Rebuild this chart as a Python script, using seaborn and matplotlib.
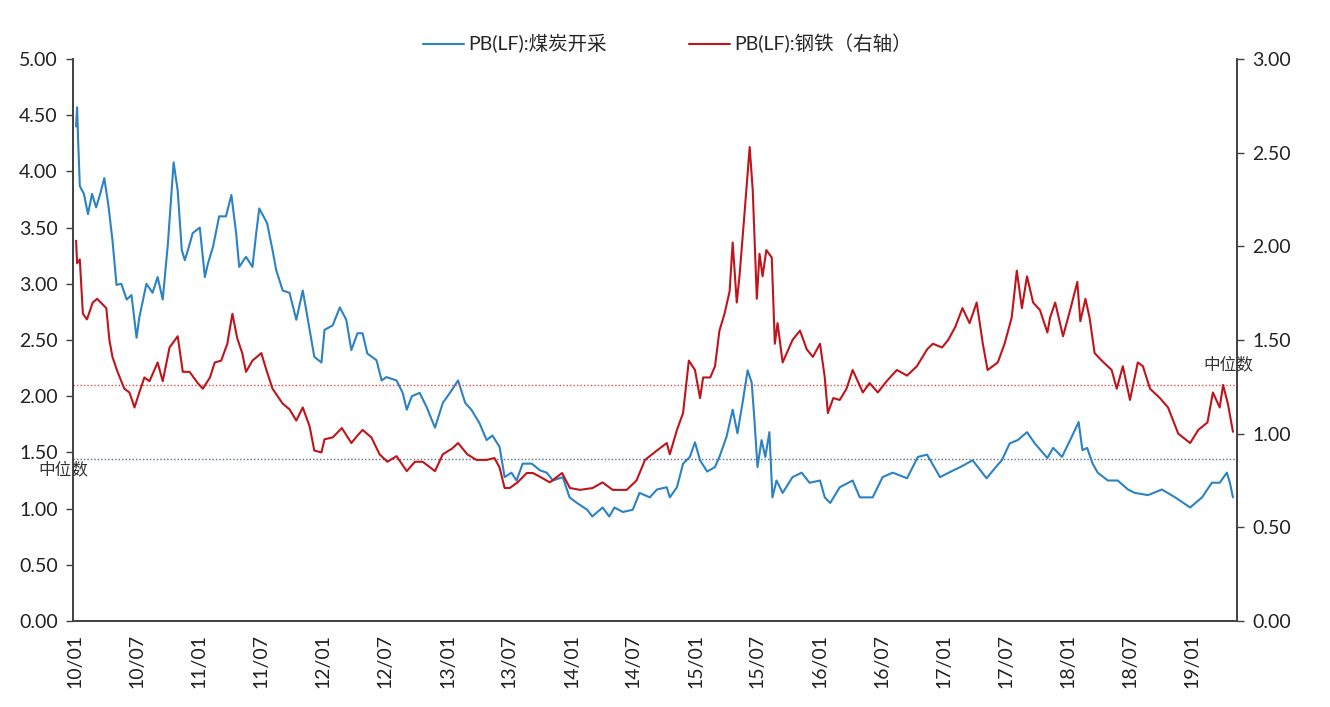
import matplotlib
matplotlib.use("Agg")
import matplotlib.pyplot as plt
import matplotlib.dates as mdates
from matplotlib.lines import Line2D
import seaborn as sns
import pandas as pd

# ---------------- data ----------------
coal_dates = [
    "2010-01-04", "2010-01-07", "2010-01-10", "2010-01-15", "2010-01-27", "2010-02-08", "2010-02-20",
    "2010-03-04", "2010-03-16", "2010-03-28", "2010-04-09", "2010-04-21", "2010-05-03", "2010-05-17",
    "2010-06-02", "2010-06-16", "2010-07-01", "2010-07-09", "2010-07-30", "2010-08-17", "2010-09-01",
    "2010-09-16", "2010-10-01", "2010-10-09", "2010-10-18", "2010-10-30", "2010-11-11", "2010-11-20",
    "2010-12-04", "2010-12-13", "2011-01-03", "2011-01-18", "2011-01-27", "2011-02-11", "2011-03-01",
    "2011-03-21", "2011-04-06", "2011-04-20", "2011-04-29", "2011-05-19", "2011-06-07", "2011-06-18",
    "2011-06-27", "2011-07-20", "2011-08-05", "2011-08-16", "2011-09-04", "2011-09-24", "2011-10-14",
    "2011-11-02", "2011-11-16", "2011-12-06", "2011-12-27", "2012-01-05", "2012-01-29", "2012-02-19",
    "2012-03-09", "2012-03-24", "2012-04-11", "2012-04-26", "2012-05-10", "2012-06-06", "2012-06-21",
    "2012-07-05", "2012-08-04", "2012-08-22", "2012-09-03", "2012-09-18", "2012-10-11", "2012-11-01",
    "2012-11-25", "2012-12-18", "2013-01-08", "2013-02-01", "2013-02-22", "2013-03-12", "2013-04-05",
    "2013-04-26", "2013-05-13", "2013-06-03", "2013-06-18", "2013-07-08", "2013-07-23", "2013-08-10",
    "2013-09-06", "2013-09-30", "2013-10-20", "2013-11-07", "2013-12-06", "2013-12-26", "2014-01-17",
    "2014-02-16", "2014-03-03", "2014-04-02", "2014-04-22", "2014-05-07", "2014-06-01", "2014-06-30",
    "2014-07-20", "2014-08-19", "2014-09-09", "2014-10-08", "2014-10-17", "2014-11-07", "2014-11-25",
    "2014-12-15", "2014-12-30", "2015-01-14", "2015-02-04", "2015-02-27", "2015-03-12", "2015-04-02",
    "2015-04-20", "2015-05-04", "2015-05-19", "2015-06-03", "2015-06-15", "2015-06-23", "2015-07-02",
    "2015-07-14", "2015-07-25", "2015-08-06", "2015-08-15", "2015-08-27", "2015-09-14", "2015-10-13",
    "2015-11-09", "2015-12-02", "2016-01-02", "2016-01-16", "2016-02-01", "2016-02-29", "2016-04-07",
    "2016-04-28", "2016-06-05", "2016-07-04", "2016-08-03", "2016-09-14", "2016-10-16", "2016-11-12",
    "2016-12-20", "2017-01-28", "2017-02-18", "2017-03-26", "2017-05-06", "2017-06-08", "2017-06-20",
    "2017-07-13", "2017-08-06", "2017-09-02", "2017-09-25", "2017-11-01", "2017-11-18", "2017-12-14",
    "2018-01-07", "2018-02-01", "2018-02-12", "2018-02-26", "2018-03-14", "2018-03-29", "2018-04-28",
    "2018-05-27", "2018-06-26", "2018-07-16", "2018-08-24", "2018-10-04", "2018-11-12", "2018-12-26",
    "2019-01-30", "2019-02-28", "2019-03-23", "2019-04-13", "2019-04-22", "2019-05-01",
]
coal_pb = [
    4.40, 4.57, 4.28, 3.87, 3.80, 3.62, 3.80, 3.68, 3.80, 3.94, 3.70, 3.39, 2.99, 3.00,
    2.86, 2.90, 2.52, 2.70, 3.00, 2.92, 3.06, 2.86, 3.35, 3.70, 4.08, 3.83, 3.30, 3.21,
    3.35, 3.45, 3.50, 3.06, 3.18, 3.33, 3.60, 3.60, 3.79, 3.45, 3.15, 3.24, 3.15, 3.45,
    3.67, 3.54, 3.30, 3.12, 2.94, 2.92, 2.68, 2.94, 2.70, 2.35, 2.30, 2.59, 2.63, 2.79,
    2.68, 2.41, 2.56, 2.56, 2.38, 2.32, 2.14, 2.17, 2.14, 2.03, 1.88, 2.00, 2.03, 1.90,
    1.72, 1.94, 2.03, 2.14, 1.94, 1.88, 1.76, 1.61, 1.65, 1.55, 1.28, 1.32, 1.25, 1.40,
    1.40, 1.34, 1.32, 1.25, 1.28, 1.10, 1.05, 0.99, 0.93, 1.01, 0.93, 1.01, 0.97, 0.99,
    1.14, 1.10, 1.17, 1.19, 1.10, 1.19, 1.40, 1.46, 1.59, 1.43, 1.33, 1.37, 1.46, 1.64,
    1.88, 1.67, 1.94, 2.23, 2.12, 1.79, 1.37, 1.61, 1.46, 1.68, 1.10, 1.25, 1.14, 1.28,
    1.32, 1.23, 1.25, 1.10, 1.05, 1.19, 1.25, 1.10, 1.10, 1.28, 1.32, 1.27, 1.46, 1.48,
    1.28, 1.34, 1.37, 1.43, 1.27, 1.39, 1.43, 1.58, 1.61, 1.68, 1.58, 1.45, 1.54, 1.46,
    1.61, 1.77, 1.52, 1.54, 1.40, 1.32, 1.25, 1.25, 1.17, 1.14, 1.12, 1.17, 1.10, 1.01,
    1.10, 1.23, 1.23, 1.32, 1.23, 1.10,
]

steel_dates = [
    "2010-01-04", "2010-01-07", "2010-01-15", "2010-01-24", "2010-02-05", "2010-02-22", "2010-03-07",
    "2010-04-03", "2010-04-12", "2010-04-21", "2010-05-06", "2010-05-26", "2010-06-10", "2010-06-25",
    "2010-07-09", "2010-07-24", "2010-08-08", "2010-09-01", "2010-09-16", "2010-10-06", "2010-10-30",
    "2010-11-14", "2010-12-04", "2010-12-28", "2011-01-12", "2011-02-02", "2011-02-16", "2011-03-07",
    "2011-03-25", "2011-04-09", "2011-04-23", "2011-05-08", "2011-05-19", "2011-06-07", "2011-07-03",
    "2011-07-18", "2011-08-05", "2011-09-04", "2011-09-24", "2011-10-14", "2011-11-02", "2011-11-22",
    "2011-12-06", "2011-12-27", "2012-01-05", "2012-01-29", "2012-02-25", "2012-03-24", "2012-04-11",
    "2012-04-26", "2012-05-22", "2012-06-15", "2012-07-08", "2012-08-04", "2012-09-03", "2012-09-27",
    "2012-10-20", "2012-11-25", "2012-12-18", "2013-01-14", "2013-02-01", "2013-02-28", "2013-03-27",
    "2013-04-26", "2013-05-19", "2013-06-03", "2013-06-18", "2013-07-03", "2013-07-26", "2013-08-22",
    "2013-09-09", "2013-09-30", "2013-10-29", "2013-12-04", "2013-12-27", "2014-01-26", "2014-03-04",
    "2014-04-02", "2014-05-02", "2014-06-12", "2014-07-11", "2014-08-05", "2014-09-09", "2014-10-08",
    "2014-10-17", "2014-11-07", "2014-11-25", "2014-12-12", "2014-12-30", "2015-01-14", "2015-01-23",
    "2015-02-13", "2015-02-27", "2015-03-12", "2015-03-27", "2015-04-11", "2015-04-20", "2015-05-02",
    "2015-05-10", "2015-05-25", "2015-06-09", "2015-06-18", "2015-06-30", "2015-07-08", "2015-07-17",
    "2015-07-28", "2015-08-13", "2015-08-22", "2015-08-30", "2015-09-14", "2015-10-13", "2015-11-04",
    "2015-11-24", "2015-12-12", "2016-01-02", "2016-01-16", "2016-01-25", "2016-02-10", "2016-02-29",
    "2016-03-20", "2016-04-07", "2016-05-07", "2016-05-27", "2016-06-20", "2016-07-16", "2016-08-15",
    "2016-09-14", "2016-10-13", "2016-11-12", "2016-11-29", "2016-12-26", "2017-01-13", "2017-02-03",
    "2017-02-24", "2017-03-17", "2017-04-07", "2017-04-25", "2017-05-09", "2017-06-08", "2017-06-28",
    "2017-07-19", "2017-08-03", "2017-08-18", "2017-09-02", "2017-09-20", "2017-10-10", "2017-11-01",
    "2017-11-09", "2017-11-24", "2017-12-17", "2018-01-07", "2018-01-28", "2018-02-06", "2018-02-21",
    "2018-03-05", "2018-03-20", "2018-04-10", "2018-05-09", "2018-05-24", "2018-06-11", "2018-07-02",
    "2018-07-25", "2018-08-09", "2018-08-30", "2018-09-28", "2018-10-22", "2018-11-21", "2018-12-26",
    "2019-01-19", "2019-02-15", "2019-03-03", "2019-03-23", "2019-04-02", "2019-04-16", "2019-05-01",
]
steel_pb = [
    2.03, 1.91, 1.93, 1.64, 1.61, 1.70, 1.72, 1.67, 1.50, 1.41, 1.33, 1.24, 1.22, 1.14,
    1.22, 1.30, 1.28, 1.38, 1.28, 1.46, 1.52, 1.33, 1.33, 1.27, 1.24, 1.30, 1.38, 1.39,
    1.48, 1.64, 1.51, 1.43, 1.33, 1.39, 1.43, 1.34, 1.24, 1.16, 1.13, 1.07, 1.14, 1.04,
    0.91, 0.90, 0.97, 0.98, 1.03, 0.95, 0.99, 1.02, 0.98, 0.89, 0.85, 0.88, 0.80, 0.85,
    0.85, 0.80, 0.89, 0.92, 0.95, 0.89, 0.86, 0.86, 0.87, 0.82, 0.71, 0.71, 0.74, 0.79,
    0.79, 0.77, 0.74, 0.79, 0.71, 0.70, 0.71, 0.74, 0.70, 0.70, 0.75, 0.86, 0.91, 0.95,
    0.89, 1.02, 1.11, 1.39, 1.34, 1.19, 1.30, 1.30, 1.36, 1.55, 1.64, 1.76, 2.02, 1.70,
    1.84, 2.18, 2.53, 2.30, 1.72, 1.96, 1.84, 1.98, 1.94, 1.48, 1.59, 1.38, 1.50, 1.55,
    1.45, 1.41, 1.48, 1.30, 1.11, 1.19, 1.18, 1.24, 1.34, 1.22, 1.27, 1.22, 1.28, 1.34,
    1.31, 1.36, 1.45, 1.48, 1.46, 1.50, 1.57, 1.67, 1.59, 1.70, 1.48, 1.34, 1.38, 1.48,
    1.62, 1.87, 1.67, 1.84, 1.70, 1.66, 1.54, 1.62, 1.70, 1.52, 1.66, 1.81, 1.60, 1.72,
    1.62, 1.43, 1.39, 1.34, 1.24, 1.36, 1.18, 1.38, 1.36, 1.24, 1.19, 1.14, 1.00, 0.95,
    1.02, 1.06, 1.22, 1.14, 1.26, 1.16, 1.01,
]

coal_median = 1.44    # left axis
steel_median = 1.26   # right axis

coal_label = "PB(LF):煤炭开采"
steel_label = "PB(LF):钢铁（右轴）"
median_label = "中位数"

left_ticks = [0, 0.5, 1.0, 1.5, 2.0, 2.5, 3.0, 3.5, 4.0, 4.5, 5.0]
right_ticks = [0, 0.5, 1.0, 1.5, 2.0, 2.5, 3.0]

# ---------------- styling ----------------
sns.set_style("white")
plt.rcParams["font.family"] = ["Lato", "Noto Sans CJK SC", "DejaVu Sans"]
plt.rcParams["axes.unicode_minus"] = False

BLUE = "#2B82C4"
RED = "#C0141C"
AXIS = "#404040"

coal_df = pd.DataFrame({"date": pd.to_datetime(coal_dates), "pb": coal_pb})
steel_df = pd.DataFrame({"date": pd.to_datetime(steel_dates), "pb": steel_pb})

fig = plt.figure(figsize=(13.3, 7.07), dpi=100)
ax = fig.add_axes([0.0549, 0.1216, 0.8752, 0.795])
ax2 = ax.twinx()

sns.lineplot(data=coal_df, x="date", y="pb", ax=ax, color=BLUE, linewidth=1.5, legend=False)
sns.lineplot(data=steel_df, x="date", y="pb", ax=ax2, color=RED, linewidth=1.5, legend=False)

ax.axhline(coal_median, color="#5A7090", linestyle=(0, (1, 1.5)), linewidth=1.0, zorder=1)
ax2.axhline(steel_median, color="#E05050", linestyle=(0, (1, 1.5)), linewidth=1.0, zorder=1)

ax.set_ylim(0, 5)
ax2.set_ylim(0, 3)
ax.set_yticks(left_ticks)
ax2.set_yticks(right_ticks)
ax.set_yticklabels([f"{v:.2f}" for v in left_ticks])
ax2.set_yticklabels([f"{v:.2f}" for v in right_ticks])

ax.set_xlim(pd.Timestamp("2009-12-26"), pd.Timestamp("2019-05-13"))
ax.xaxis.set_major_locator(mdates.MonthLocator(bymonth=[1, 7]))
ax.xaxis.set_major_formatter(mdates.DateFormatter("%y/%m"))
for lbl in ax.get_xticklabels():
    lbl.set_rotation(90)

for a in (ax, ax2):
    a.set_xlabel("")
    a.set_ylabel("")
    a.spines["top"].set_visible(False)
    for s in ("left", "right", "bottom"):
        a.spines[s].set_color(AXIS)
        a.spines[s].set_linewidth(1.2)
    a.tick_params(axis="both", which="major", labelsize=14, colors="#222222",
                  direction="out", length=5, width=1.0, color=AXIS)

ax.tick_params(axis="x", pad=4)
ax.tick_params(axis="y", pad=6)
ax2.tick_params(axis="y", pad=6)

# median annotations
ax.text(-0.030, 1.35, median_label, transform=ax.get_yaxis_transform(),
        fontsize=12, color="#333333", va="center", ha="left")
ax2.text(0.971, 1.37, median_label, transform=ax2.get_yaxis_transform(),
         fontsize=12, color="#333333", va="center", ha="left")

handles = [Line2D([0], [0], color=BLUE, linewidth=1.5),
           Line2D([0], [0], color=RED, linewidth=1.5)]
fig.legend(handles, [coal_label, steel_label], loc="center", bbox_to_anchor=(0.502, 0.938),
           ncol=2, frameon=False, fontsize=14, handlelength=2.1, handletextpad=0.25,
           columnspacing=4.2)

fig.savefig("out.png", dpi=100, facecolor="white")
